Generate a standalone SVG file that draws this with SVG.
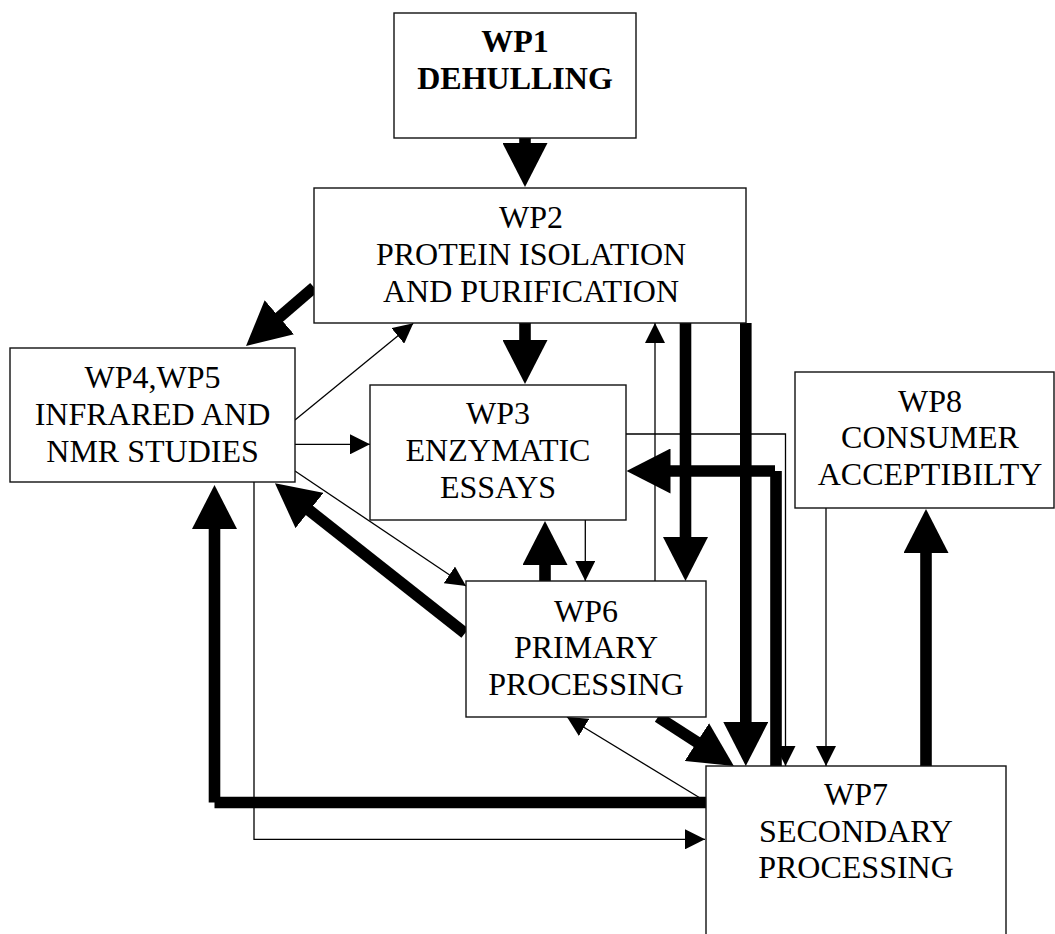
<svg xmlns="http://www.w3.org/2000/svg" width="1055" height="934" viewBox="0 0 1055 934">
  <style>
    .box { fill: #fff; stroke: #111; stroke-width: 1.4; }
    .lbl { font-family: "Liberation Serif", "Times New Roman", serif; font-size: 32px; fill: #000; text-anchor: middle; }
    .bold { font-weight: bold; }
    .thick { fill: none; stroke: #000; stroke-width: 11.6; stroke-linecap: butt; }
    .thin { fill: none; stroke: #000; stroke-width: 1.3; }
    .thick-a { marker-end: url(#headBig); }
    .thin-a { marker-end: url(#headSmall); }
  </style>
  <defs>
    <!-- large head: the path stops at the head's base, the head reaches 43px further -->
    <marker id="headBig" viewBox="0 0 44 45" markerWidth="44" markerHeight="45" refX="1" refY="22.5" markerUnits="userSpaceOnUse" orient="auto">
      <path d="M0,0 L44,22.5 L0,45 Z" fill="#000"/>
    </marker>
    <!-- small head: tip sits on the path end -->
    <marker id="headSmall" viewBox="0 0 20 20" markerWidth="20" markerHeight="20" refX="20" refY="10" markerUnits="userSpaceOnUse" orient="auto">
      <path d="M0,0 L20,10 L0,20 Z" fill="#000"/>
    </marker>
  </defs>

  <rect width="1055" height="934" fill="#fff"/>

  <g id="connectors">
    <!-- heavy flows -->
    <path class="thick thick-a" d="M525,138 V144"/>
    <path class="thick thick-a" d="M314,287.4 L278.6,317.9"/>
    <path class="thick thick-a" d="M525,323 V341"/>
    <path class="thick thick-a" d="M545,581 V564"/>
    <path class="thick thick-a" d="M685.5,323 V538"/>
    <path class="thick thick-a" d="M745.8,323 V723"/>
    <path class="thick" d="M776,766 V471"/>
    <path class="thick thick-a" d="M775,471 H669.5"/>
    <path class="thick thick-a" d="M926,766 V552"/>
    <path class="thick thick-a" d="M465,633.3 L308.7,509.9"/>
    <path class="thick" d="M706,802.5 H214.5"/>
    <path class="thick thick-a" d="M214.5,802.5 V528"/>
    <path class="thick thick-a" d="M658,717 L697.7,742.6"/>

    <!-- light flows -->
    <path class="thin thin-a" d="M295,420 L413.3,323.3"/>
    <path class="thin thin-a" d="M295,444.3 H370"/>
    <path class="thin thin-a" d="M295,471 L466,586"/>
    <path class="thin thin-a" d="M254,482 V839.3 H705"/>
    <path class="thin thin-a" d="M585.3,520 V581"/>
    <path class="thin thin-a" d="M655,581 V323"/>
    <path class="thin thin-a" d="M626,434 H785.5 V766"/>
    <path class="thin thin-a" d="M826,508 V766"/>
    <path class="thin thin-a" d="M705,801 L567,717"/>
  </g>

  <g id="wp1">
    <rect class="box" x="394" y="13" width="242" height="125"/>
    <text class="lbl bold" x="515" y="52.3">WP1</text>
    <text class="lbl bold" x="515" y="89.3">DEHULLING</text>
  </g>

  <g id="wp2">
    <rect class="box" x="314" y="188" width="432" height="135"/>
    <text class="lbl" x="531" y="227.7">WP2</text>
    <text class="lbl" x="531" y="265">PROTEIN ISOLATION</text>
    <text class="lbl" x="531" y="301.7">AND PURIFICATION</text>
  </g>

  <g id="wp4-wp5">
    <rect class="box" x="10" y="348" width="285" height="134"/>
    <text class="lbl" x="152.5" y="388.3">WP4,WP5</text>
    <text class="lbl" x="152.5" y="425">INFRARED AND</text>
    <text class="lbl" x="152.5" y="461.7">NMR STUDIES</text>
  </g>

  <g id="wp3">
    <rect class="box" x="370" y="385" width="256" height="135"/>
    <text class="lbl" x="498" y="424">WP3</text>
    <text class="lbl" x="498" y="461.3">ENZYMATIC</text>
    <text class="lbl" x="498" y="498.3">ESSAYS</text>
  </g>

  <g id="wp6">
    <rect class="box" x="466" y="581" width="240" height="136"/>
    <text class="lbl" x="586" y="621.7">WP6</text>
    <text class="lbl" x="586" y="658.3">PRIMARY</text>
    <text class="lbl" x="586" y="695">PROCESSING</text>
  </g>

  <g id="wp8">
    <rect class="box" x="795" y="372" width="259" height="136"/>
    <text class="lbl" x="930" y="411.7">WP8</text>
    <text class="lbl" x="930" y="448.3">CONSUMER</text>
    <text class="lbl" x="930" y="485">ACCEPTIBILTY</text>
  </g>

  <g id="wp7">
    <rect class="box" x="706" y="766" width="300" height="190"/>
    <text class="lbl" x="856" y="805">WP7</text>
    <text class="lbl" x="856" y="842.3">SECONDARY</text>
    <text class="lbl" x="856" y="878.3">PROCESSING</text>
  </g>
</svg>
